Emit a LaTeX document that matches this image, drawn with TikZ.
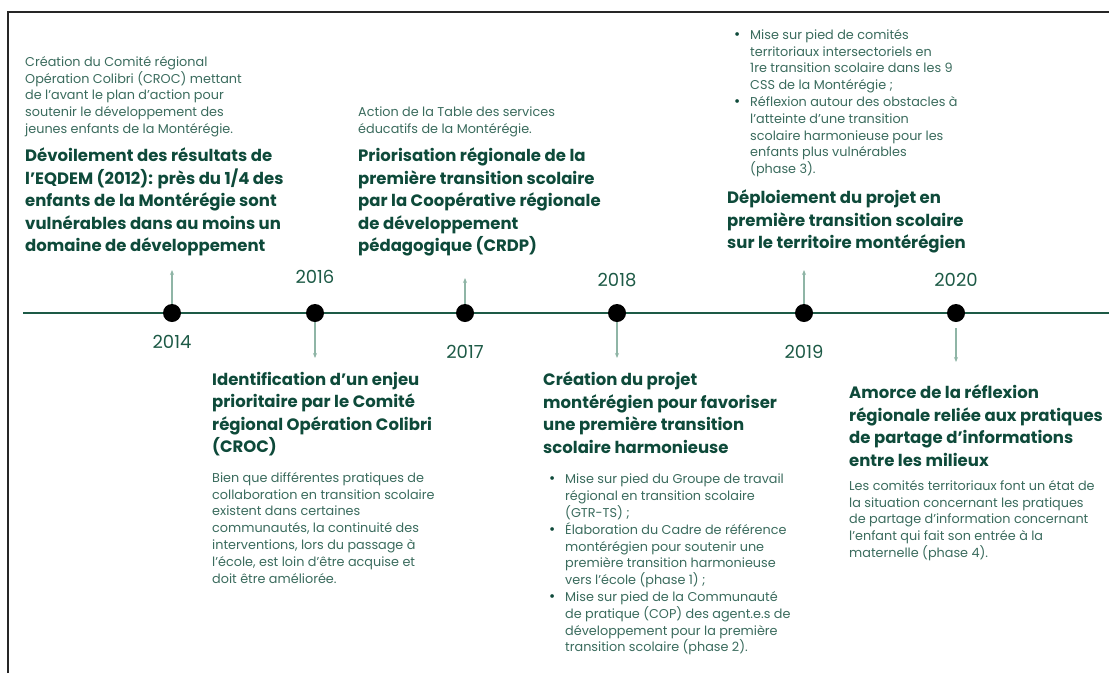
\documentclass[tikz,border=0pt]{standalone}
\usepackage{fontspec}
\setmainfont{Poppins}
\usetikzlibrary{arrows.meta}

\definecolor{titlegreen}{HTML}{0E4A3A}
\definecolor{bodygreen}{HTML}{3A6B5D}
\definecolor{linegreen}{HTML}{1D5A46}
\definecolor{arrowgreen}{HTML}{8FB5A6}

\newcommand{\bul}{\makebox[16pt][l]{\textcolor{titlegreen}{\fontsize{15}{15}\selectfont\textbullet}}}
\newcommand{\ind}{\makebox[16pt]{}}

\begin{document}
\begin{tikzpicture}[
    x=1pt, y=-1pt,
    event/.style={anchor=north west, inner sep=0pt, align=left, text=titlegreen,
        font=\fontsize{16.5}{22.5}\selectfont\bfseries},
    note/.style={anchor=north west, inner sep=0pt, align=left, text=bodygreen,
        font=\fontsize{12.8}{16.8}\selectfont},
    year/.style={text=linegreen, font=\fontsize{18}{20}\selectfont},
    dot/.style={circle, fill=black, minimum size=18pt, inner sep=0pt},
    arrow/.style={-{Stealth[length=5pt,width=4pt]}, arrowgreen, line width=1.2pt}
]
\useasboundingbox (0,0) rectangle (1109,673);

% Frame
\draw[line width=2pt, black!85] (8,673) -- (8,12) -- (1109,12);

% Timeline
\coordinate (tl) at (23,313);
\coordinate (tr) at (1109,313);
\draw[linegreen, line width=2pt] (tl) -- (tr);

% Arrow ends
\coordinate (u14) at (172,270);
\coordinate (b16) at (315,358);
\coordinate (u17) at (465,278);
\coordinate (b18) at (617,358);
\coordinate (u19) at (804,270);
\coordinate (s20) at (956,328);
\coordinate (b20) at (956,362);

\draw [arrow] (172,313) -- (u14);
\draw [arrow] (315,313) -- (b16);
\draw [arrow] (465,313) -- (u17);
\draw [arrow] (617,313) -- (b18);
\draw [arrow] (804,313) -- (u19);
\draw [arrow] (s20) -- (b20);

% Dots
\node (d14) [dot] at (172,313) {};
\node (d16) [dot] at (315,313) {};
\node (d17) [dot] at (465,313) {};
\node (d18) [dot] at (617,313) {};
\node (d19) [dot] at (804,313) {};
\node (d20) [dot] at (956,313) {};

% Years
\node (y14) [year] at (172,342) {2014};
\node (y16) [year] at (315,277) {2016};
\node (y17) [year] at (465,352) {2017};
\node (y18) [year] at (617,280) {2018};
\node (y19) [year] at (804,352) {2019};
\node (y20) [year] at (956,280) {2020};

% Events above the line
\node (n14) [note] at (25,56)
    {Création du Comité régional\\
    Opération Colibri (CROC) mettant\\
    de l’avant le plan d’action pour\\
    soutenir le développement des\\
    jeunes enfants de la Montérégie.};
\node (t14) [event] at (25,148)
    {Dévoilement des résultats de\\
    l’EQDEM (2012): près du 1/4 des\\
    enfants de la Montérégie sont\\
    vulnérables dans au moins un\\
    domaine de développement};

\node (n17) [note] at (358,107)
    {Action de la Table des services\\
    éducatifs de la Montérégie.};
\node (t17) [event] at (358,148)
    {Priorisation régionale de la\\
    première transition scolaire\\
    par la Coopérative régionale\\
    de développement\\
    pédagogique (CRDP)};

\node (n19) [note] at (734,29)
    {\bul Mise sur pied de comités\\
    \ind territoriaux intersectoriels en\\
    \ind 1re transition scolaire dans les 9\\
    \ind CSS de la Montérégie ;\\
    \bul Réflexion autour des obstacles à\\
    \ind l’atteinte d’une transition\\
    \ind scolaire harmonieuse pour les\\
    \ind enfants plus vulnérables\\
    \ind (phase 3).};
\node (t19) [event] at (727,190)
    {Déploiement du projet en\\
    première transition scolaire\\
    sur le territoire montérégien};

% Events below the line
\node (t16) [event] at (212,372)
    {Identification d’un enjeu\\
    prioritaire par le Comité\\
    régional Opération Colibri\\
    (CROC)};
\node (n16) [note] at (212,472)
    {Bien que différentes pratiques de\\
    collaboration en transition scolaire\\
    existent dans certaines\\
    communautés, la continuité des\\
    interventions, lors du passage à\\
    l’école, est loin d’être acquise et\\
    doit être améliorée.};

\node (t18) [event] at (543,372)
    {Création du projet\\
    montérégien pour favoriser\\
    une première transition\\
    scolaire harmonieuse};
\node (n18) [note] at (549,474)
    {\bul Mise sur pied du Groupe de travail\\
    \ind régional en transition scolaire\\
    \ind (GTR-TS) ;\\
    \bul Élaboration du Cadre de référence\\
    \ind montérégien pour soutenir une\\
    \ind première transition harmonieuse\\
    \ind vers l’école (phase 1) ;\\
    \bul Mise sur pied de la Communauté\\
    \ind de pratique (COP) des agent.e.s de\\
    \ind développement pour la première\\
    \ind transition scolaire (phase 2).};

\node (t20) [event] at (849,385)
    {Amorce de la réflexion\\
    régionale reliée aux pratiques\\
    de partage d’informations\\
    entre les milieux};
\node (n20) [note] at (849,480)
    {Les comités territoriaux font un état de\\
    la situation concernant les pratiques\\
    de partage d’information concernant\\
    l’enfant qui fait son entrée à la\\
    maternelle (phase 4).};

\end{tikzpicture}
\end{document}
